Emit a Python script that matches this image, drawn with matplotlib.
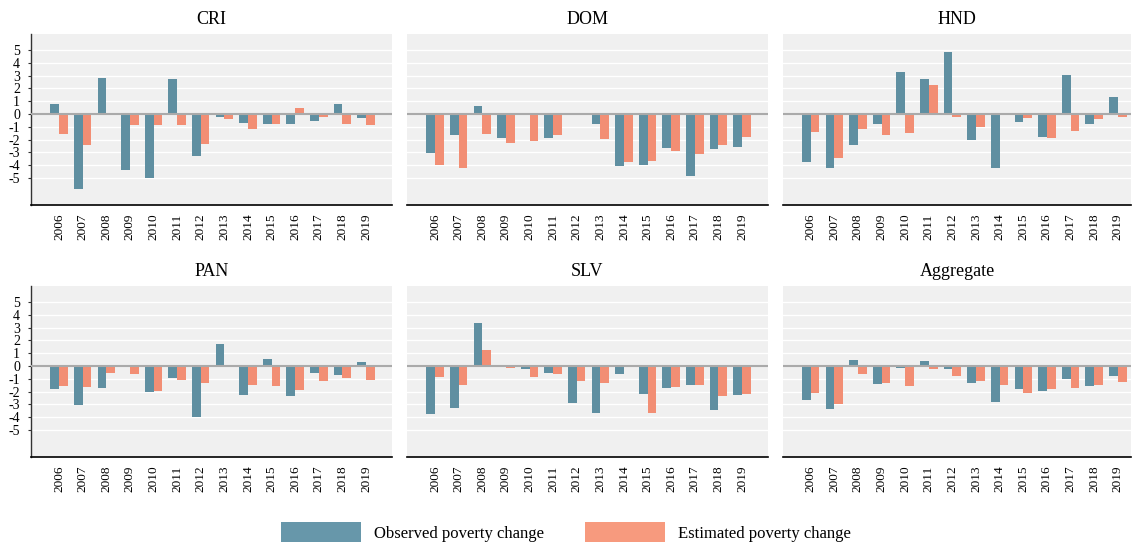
import matplotlib
matplotlib.use("Agg")
import matplotlib.pyplot as plt
from matplotlib.patches import Patch
import numpy as np

plt.rcParams['font.family'] = ['Liberation Serif', 'DejaVu Serif']
plt.rcParams['axes.unicode_minus'] = False

years = [str(y) for y in range(2006, 2020)]
countries = ["CRI", "DOM", "HND", "PAN", "SLV", "Aggregate"]

obs_CRI = [0.78, -5.86, 2.81, -4.38, -4.97, 2.73, -3.26, -0.23, -0.70, -0.78, -0.78, -0.55, 0.78, -0.31]
est_CRI = [-1.56, -2.42, -0.08, -0.86, -0.86, -0.86, -2.34, -0.39, -1.15, -0.78, 0.47, -0.23, -0.78, -0.86]
obs_DOM = [-3.05, -1.64, 0.63, -1.88, -0.08, -1.88, -0.08, -0.78, -4.06, -3.98, -2.66, -4.84, -2.73, -2.58]
est_DOM = [-3.98, -4.22, -1.56, -2.27, -2.11, -1.64, 0.08, -1.95, -3.75, -3.67, -2.89, -3.13, -2.42, -1.80]
obs_HND = [-3.75, -4.22, -2.42, -0.78, 3.28, 2.73, 4.84, -2.03, -4.22, -0.63, -1.80, 3.05, -0.78, 1.33]
est_HND = [-1.41, -3.44, -1.17, -1.64, -1.48, 2.27, -0.23, -1.02, 0.08, -0.31, -1.88, -1.33, -0.39, -0.23]
obs_PAN = [-1.80, -3.05, -1.72, -0.08, -2.03, -0.94, -3.98, 1.72, -2.27, 0.55, -2.34, -0.55, -0.70, 0.31]
est_PAN = [-1.56, -1.64, -0.55, -0.63, -1.95, -1.09, -1.33, -0.08, -1.48, -1.56, -1.88, -1.17, -0.94, -1.09]
obs_SLV = [-3.75, -3.28, 3.36, -0.08, -0.23, -0.55, -2.89, -3.67, -0.63, -2.19, -1.72, -1.48, -3.44, -2.27]
est_SLV = [-0.86, -1.48, 1.25, -0.16, -0.86, -0.63, -1.17, -1.33, 0.08, -3.67, -1.64, -1.48, -2.34, -2.19]
obs_AGG = [-2.66, -3.36, 0.47, -1.41, -0.16, 0.39, -0.23, -1.33, -2.81, -1.80, -1.95, -1.02, -1.56, -0.78]
est_AGG = [-2.11, -2.97, -0.63, -1.33, -1.56, -0.23, -0.78, -1.17, -1.48, -2.11, -1.80, -1.72, -1.48, -1.22]

observed = [obs_CRI, obs_DOM, obs_HND, obs_PAN, obs_SLV, obs_AGG]
estimated = [est_CRI, est_DOM, est_HND, est_PAN, est_SLV, est_AGG]

yticks = [-5, -4, -3, -2, -1, 0, 1, 2, 3, 4, 5]

c_obs = "#5f8fa1"
c_est = "#f28e74"
c_obs_leg = "#6797aa"
c_est_leg = "#f79a7e"

W, H = 1132, 544
fig = plt.figure(figsize=(W / 100, H / 100), dpi=100)

cols = [(31, 392), (407, 768), (783, 1131)]
rows = [(34, 205), (286, 457)]
xlims = [(-1.19, 14.1), (-1.19, 14.1), (-1.17, 13.56)]

x = np.arange(len(years))
bw = 0.37
for i, name in enumerate(countries):
    r, c = divmod(i, 3)
    x0, x1 = cols[c]
    y0, y1 = rows[r]
    ax = fig.add_axes([x0 / W, 1 - y1 / H, (x1 - x0) / W, (y1 - y0) / H])
    ax.set_facecolor("#f0f0f0")
    for yt in yticks:
        if yt != 0:
            ax.axhline(yt, color="white", lw=1.0, zorder=1)
    ax.bar(x - bw / 2, observed[i], width=bw, color=c_obs, zorder=2)
    ax.bar(x + bw / 2, estimated[i], width=bw, color=c_est, zorder=2)
    ax.axhline(0, color="#aaaaaa", lw=1.5, zorder=3)
    ax.set_ylim(-7.11, 6.25)
    ax.set_xlim(*xlims[c])
    ax.set_xticks(x)
    ax.set_xticklabels(years, rotation=90, fontsize=9.5)
    ax.tick_params(axis='x', length=0, pad=6)
    ax.set_title(name, fontsize=13, pad=7)
    for s in ["top", "right"]:
        ax.spines[s].set_visible(False)
    ax.spines["bottom"].set_color("black")
    ax.spines["bottom"].set_linewidth(1.2)
    if c == 0:
        ax.set_yticks(yticks)
        ax.set_yticklabels([str(v) for v in yticks], fontsize=10)
        ax.tick_params(axis='y', length=2, width=0.8, pad=6, color="#333333")
        ax.spines["left"].set_color("#333333")
        ax.spines["left"].set_linewidth(1.0)
    else:
        ax.set_yticks([])
        ax.spines["left"].set_visible(False)

handles = [Patch(facecolor=c_obs_leg, edgecolor='none'), Patch(facecolor=c_est_leg, edgecolor='none')]
fig.legend(handles, ["Observed poverty change", "Estimated poverty change"],
           loc="center", bbox_to_anchor=(0.5, 0.022), ncol=2, frameon=False,
           fontsize=12, handlelength=4.8, handleheight=1.5, handletextpad=0.75,
           columnspacing=2.5, borderpad=0)

fig.savefig("out.png", dpi=100)
